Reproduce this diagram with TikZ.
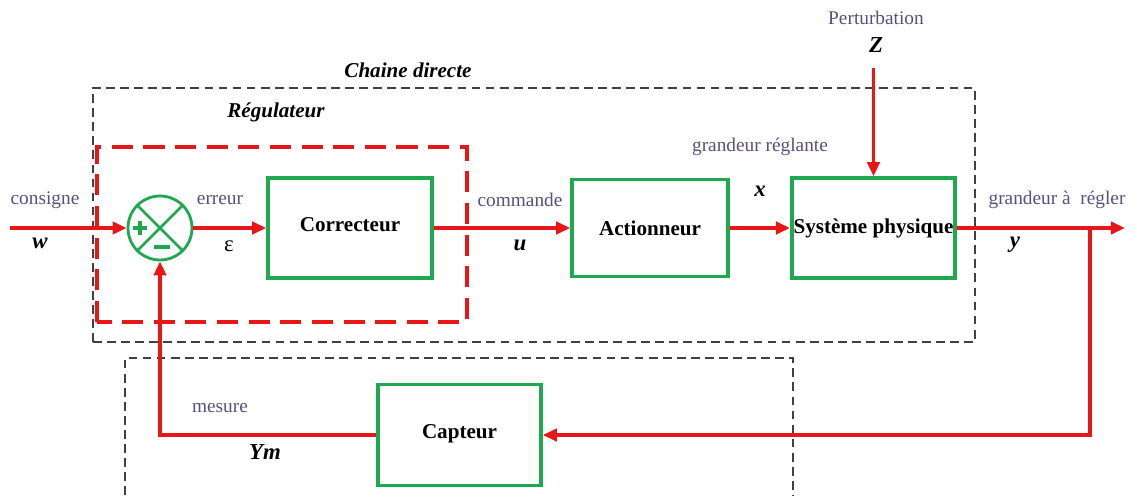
\documentclass[tikz,border=0pt]{standalone}
\usepackage{fontspec}
\setmainfont{Liberation Serif}
\usetikzlibrary{arrows.meta,positioning,calc}
\definecolor{loopred}{RGB}{232,22,22}
\definecolor{boxgreen}{RGB}{30,168,80}
\definecolor{labelgray}{RGB}{88,78,128}
\tikzset{
  blockbox/.style={rectangle,draw=boxgreen,line width=2pt,align=center,font=\fontsize{12}{14}\selectfont\bfseries},
  sumnode/.style={circle,draw=boxgreen,line width=1.6pt,minimum size=1.28cm,inner sep=0pt},
  sig/.style={-{Triangle[length=8pt,width=7pt]},line width=1.9pt,color=loopred},
  lbl/.style={font=\fontsize{11}{13}\selectfont,text=labelgray},
  var/.style={font=\fontsize{13}{15}\selectfont\bfseries\itshape},
  zone/.style={draw=black!75,line width=0.8pt,dash pattern=on 5pt off 3pt},
  regzone/.style={draw=loopred,line width=1.8pt,dash pattern=on 12pt off 6pt}
}
\begin{document}
\begin{tikzpicture}
  \useasboundingbox (0,0) rectangle (22.7,9.9);

  % zones
  \draw[zone] (1.86,3.06) rectangle (19.5,8.14);
  \draw[zone] (2.5,0) -- (2.5,2.74) -- (15.86,2.74) -- (15.86,0);
  \draw[regzone] (1.94,3.46) rectangle (9.34,6.96);
  \node[font=\fontsize{12}{14}\selectfont\bfseries\itshape] (chainLbl) at (8.16,8.5) {Chaine directe};
  \node[font=\fontsize{12}{14}\selectfont\bfseries\itshape] (regLbl) at (5.52,7.66) {Régulateur};

  % blocks
  \node[sumnode] (sum) at (3.2,5.34) {};
  \draw[boxgreen,line width=1.6pt] (sum.north west) -- (sum.south east);
  \draw[boxgreen,line width=1.6pt] (sum.north east) -- (sum.south west);
  \draw[boxgreen,line width=2.2pt] ($(sum)+(-0.54,0.0)$) -- ($(sum)+(-0.26,0.0)$);
  \draw[boxgreen,line width=2.2pt] ($(sum)+(-0.40,0.14)$) -- ($(sum)+(-0.40,-0.14)$);
  \draw[boxgreen,line width=2.2pt] ($(sum)+(-0.12,-0.38)$) -- ($(sum)+(0.2,-0.38)$);

  \node[blockbox,minimum width=3.28cm,minimum height=2.0cm] (corr) at (7.0,5.34) {\raisebox{4pt}{Correcteur}};
  \node[blockbox,minimum width=3.12cm,minimum height=1.94cm] (act) at (13.0,5.34) {Actionneur};
  \node[blockbox,minimum width=3.26cm,minimum height=2.0cm,inner sep=1pt] (sys) at (17.47,5.34) {Système physique};
  \node[blockbox,minimum width=3.26cm,minimum height=2.02cm] (capt) at (9.19,1.2) {\raisebox{4pt}{Capteur}};

  % signals
  \coordinate (wIn) at (0.2,5.34);
  \coordinate (yOut) at (22.5,5.34);
  \coordinate (branch) at (21.8,5.34);
  \node[lbl] (pertLbl) at (17.52,9.54) {Perturbation};
  \node[var] (zLbl) at (17.52,9.0) {Z};
  \coordinate (zStart) at (17.47,8.54);

  \draw[sig] (wIn) -- (sum.west);
  \draw[sig] (sum.east) -- (corr.west);
  \draw[sig] (corr.east) -- (act.west);
  \draw[sig] (act.east) -- (sys.west);
  \draw[sig] (sys.east) -- (yOut);
  \draw[sig] (zStart) -- (sys.north);
  \draw[sig] (branch) |- (capt.east);
  \draw[sig] (capt.west) -| (sum.south);

  % labels
  \node[lbl] (consLbl) at (0.9,5.9) {consigne};
  \node[var] (wLbl) at (0.8,5.04) {w};
  \node[lbl] (errLbl) at (4.4,5.9) {erreur};
  \node[font=\fontsize{13}{15}\selectfont] (epsLbl) at (4.58,4.98) {ε};
  \node[lbl] (cmdLbl) at (10.4,5.9) {commande};
  \node[var] (uLbl) at (10.4,5.0) {u};
  \node[lbl] (reglLbl) at (15.2,6.96) {grandeur réglante};
  \node[var] (xLbl) at (15.2,6.08) {x};
  \node[lbl] (aReglLbl) at (21.14,5.9) {grandeur à~ régler};
  \node[var] (yLbl) at (20.3,5.0) {y};
  \node[lbl] (mesLbl) at (4.4,1.74) {mesure};
  \node[var] (ymLbl) at (5.3,0.86) {Ym};
\end{tikzpicture}
\end{document}
